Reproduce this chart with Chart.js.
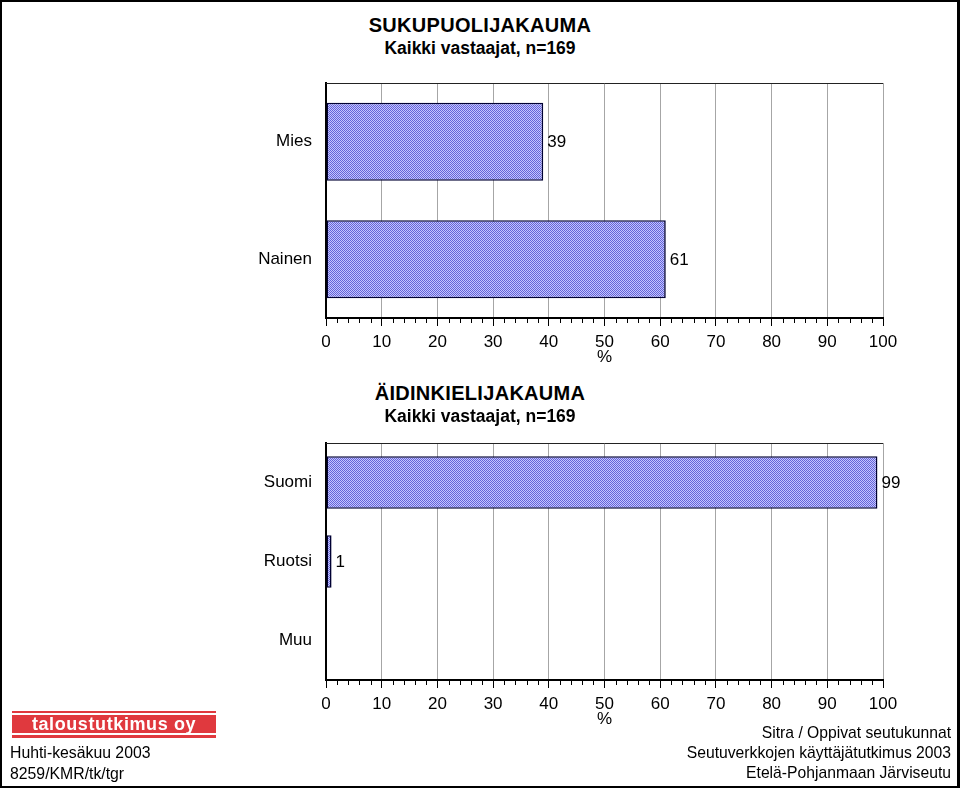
<!DOCTYPE html>
<html>
<head>
<meta charset="utf-8">
<script src="https://cdn.jsdelivr.net/npm/chart.js@4.4.1/dist/chart.umd.min.js"></script>
<style>
  html, body { margin: 0; padding: 0; background: #fff; }
  body { width: 960px; height: 788px; position: relative; overflow: hidden; font-family: "Liberation Sans", Arial, sans-serif; }
  .frame { position: absolute; left: 0; top: 0; width: 960px; height: 788px; box-sizing: border-box; border: 2px solid #000; border-right-width: 3px; }
  canvas { position: absolute; left: 0; }
  .head { position: absolute; left: 0; width: 960px; text-align: center; font-weight: bold; color: #000; }
  .h1 { font-size: 20px; letter-spacing: 0.3px; }
  .h2 { font-size: 17.5px; }
  .logo { position: absolute; left: 12px; top: 711px; width: 204px; height: 27px; background: #e0393e; }
  .logo .stripe { position: absolute; left: 0; width: 204px; height: 2px; background: #fff; }
  .logo span { position: absolute; left: 0; width: 204px; top: 3px; text-align: center; color: #fff; font-weight: bold; font-size: 18px; letter-spacing: 0.6px; }
  .foot { position: absolute; font-size: 15.8px; color: #000; line-height: 21px; }
</style>
</head>
<body>
<div class="head h1" style="top:14px">SUKUPUOLIJAKAUMA</div>
<div class="head h2" style="top:38px">Kaikki vastaajat, n=169</div>
<canvas id="c1" width="960" height="368" style="top:0"></canvas>

<div class="head h1" style="top:382px">ÄIDINKIELIJAKAUMA</div>
<div class="head h2" style="top:406px">Kaikki vastaajat, n=169</div>
<canvas id="c2" width="960" height="370" style="top:360px"></canvas>

<div class="logo">
  <div class="stripe" style="top:2px"></div>
  <div class="stripe" style="top:22px"></div>
  <span>taloustutkimus oy</span>
</div>
<div class="foot" style="left:10px; top:742px">Huhti-kesäkuu 2003<br>8259/KMR/tk/tgr</div>
<div class="foot" style="right:9px; top:723px; text-align:right; line-height:20px; font-size:15.7px">Sitra / Oppivat seutukunnat<br>Seutuverkkojen käyttäjätutkimus 2003<br>Etelä-Pohjanmaan Järviseutu</div>
<div class="frame"></div>

<script>
// data
const genderLabels = ['Mies', 'Nainen'];
const genderValues = [39, 61];
const langLabels = ['Suomi', 'Ruotsi', 'Muu'];
const langValues = [99, 1, null];
const axisTicks = [0, 10, 20, 30, 40, 50, 60, 70, 80, 90, 100];

const FONT = '"Liberation Sans", Arial, sans-serif';

// checkered fill like the original print pattern
function makePattern() {
    const p = document.createElement('canvas');
    p.width = 2; p.height = 2;
    const g = p.getContext('2d');
    g.fillStyle = '#c4c4ff'; g.fillRect(0, 0, 2, 2);
    g.fillStyle = '#6464d8'; g.fillRect(0, 0, 1, 1); g.fillRect(1, 1, 1, 1);
    return g.createPattern(p, 'repeat');
}

// value labels at end of bars
const valueLabels = {
    id: 'valueLabels',
    afterDatasetsDraw(chart) {
        const ctx = chart.ctx;
        const meta = chart.getDatasetMeta(0);
        ctx.save();
        ctx.font = '17px ' + FONT;
        ctx.fillStyle = '#000';
        ctx.textBaseline = 'middle';
        ctx.textAlign = 'left';
        meta.data.forEach((bar, i) => {
            const v = chart.data.datasets[0].data[i];
            if (v === null) return;
            ctx.fillText(String(v), bar.x + 4, bar.y + 1);
        });
        ctx.restore();
    }
};

// minor ticks every 2 % and top frame line
const frameTicks = {
    id: 'frameTicks',
    afterDraw(chart) {
        const ctx = chart.ctx;
        const a = chart.chartArea;
        const xs = chart.scales.x;
        ctx.save();
        ctx.strokeStyle = '#000';
        ctx.lineWidth = 1;
        ctx.beginPath();
        for (let v = 2; v < 100; v += 2) {
            if (v % 10 === 0) continue;
            const px = Math.round(xs.getPixelForValue(v)) + 0.5;
            ctx.moveTo(px, a.bottom);
            ctx.lineTo(px, a.bottom + 5);
        }
        ctx.stroke();
        ctx.strokeStyle = '#222';
        ctx.beginPath();
        ctx.moveTo(a.left, Math.round(a.top) + 0.5);
        ctx.lineTo(a.right, Math.round(a.top) + 0.5);
        ctx.stroke();
        ctx.restore();
    }
};

function makeChart(id, labels, values, padTop, xHeight) {
    const ctx = document.getElementById(id).getContext('2d');
    return new Chart(ctx, {
        type: 'bar',
        data: {
            labels,
            datasets: [{
                data: values,
                backgroundColor: makePattern(),
                borderColor: '#000033',
                borderWidth: 1.6,
                borderSkipped: false,
                categoryPercentage: 1,
                barPercentage: 0.665
            }]
        },
        options: {
            indexAxis: 'y',
            responsive: false,
            animation: false,
            layout: { padding: { top: padTop, right: 77, left: 0, bottom: 0 } },
            plugins: { legend: { display: false }, tooltip: { enabled: false }, title: { display: false } },
            scales: {
                x: {
                    min: 0,
                    max: 100,
                    afterBuildTicks: s => { s.ticks = axisTicks.map(v => ({ value: v })); },
                    afterFit: s => { s.height = xHeight; },
                    grid: { color: '#a6a6a6', lineWidth: 1, tickColor: '#000', tickLength: 8, drawOnChartArea: true },
                    border: { color: '#000', width: 2 },
                    ticks: { color: '#000', padding: 6, font: { family: FONT, size: 17 } },
                    title: { display: true, text: '%', color: '#000', padding: { top: -3, bottom: 0 }, font: { family: FONT, size: 17 } }
                },
                y: {
                    afterFit: s => { s.width = 326; },
                    grid: { display: false },
                    border: { color: '#000', width: 2 },
                    ticks: { color: '#000', padding: 6, font: { family: FONT, size: 17 } }
                }
            }
        },
        plugins: [valueLabels, frameTicks]
    });
}

makeChart('c1', genderLabels, genderValues, 83, 50);
makeChart('c2', langLabels, langValues, 83, 50);
</script>
</body>
</html>
